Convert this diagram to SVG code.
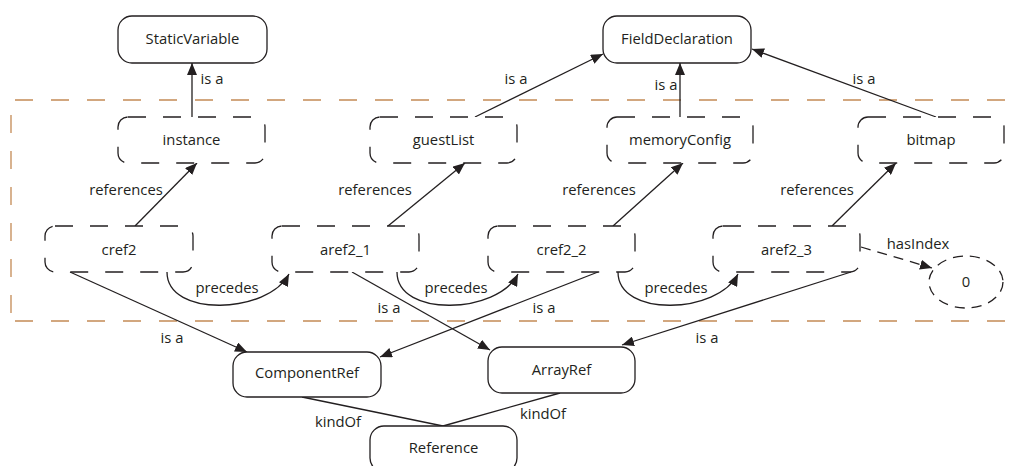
<svg xmlns="http://www.w3.org/2000/svg" width="1014" height="466" viewBox="0 0 1014 466">
<defs>
<style>
text{font-family:"Open Sans","Liberation Sans",sans-serif;font-size:14.8px;fill:#231f20;text-anchor:middle}
.solid{fill:#fff;stroke:#231f20;stroke-width:1.3}
.dash{fill:#fff;stroke:#231f20;stroke-width:1.3;stroke-dasharray:18 17}
.edge{fill:none;stroke:#231f20;stroke-width:1.3}
.arr{marker-end:url(#ah)}
.dedge{fill:none;stroke:#231f20;stroke-width:1.3;stroke-dasharray:10 7}
.region{fill:none;stroke:#c48a55;stroke-width:1.3;stroke-dasharray:18 18}
</style>
<marker id="ah" viewBox="0 0 12 10" refX="12" refY="5" markerWidth="12" markerHeight="10" markerUnits="userSpaceOnUse" orient="auto">
<path d="M0,0 L12,5 L0,10 z" fill="#231f20"/>
</marker>
</defs>
<rect width="1014" height="466" fill="#fff"/>
<g id="region">
<path class="region" d="M15,100 H1014 M11,115 V321 M15,321 H1014"/>
</g>
<g id="connectors">
<path class="edge arr" d="M192,117 L192,63"/>
<path class="edge arr" d="M475,117 L603,54"/>
<path class="edge arr" d="M680,117 L680,63"/>
<path class="edge arr" d="M936,117 L752,49"/>
<path class="edge arr" d="M135,226 L197,163"/>
<path class="edge arr" d="M388,226 L465,163"/>
<path class="edge arr" d="M613,226 L683,163"/>
<path class="edge arr" d="M832,226 L896,163"/>
<path class="edge arr" d="M167,272 C167,318 268,314 289,274"/>
<path class="edge arr" d="M397,272 C397,318 498,314 518,274"/>
<path class="edge arr" d="M618,272 C618,318 718,314 738,274"/>
<path class="dedge arr" d="M861,247 L932,268"/>
<path class="edge arr" d="M70,272 L247,352"/>
<path class="edge arr" d="M598,272 L380,357"/>
<path class="edge arr" d="M352,272 L490,350"/>
<path class="edge arr" d="M851,272 L622,345"/>
<path class="edge" d="M302,397 L443,426"/>
<path class="edge" d="M560,393 L443,426"/>
<text x="212" y="84">is a</text>
<text x="516" y="84">is a</text>
<text x="666" y="90">is a</text>
<text x="864" y="84">is a</text>
<text x="126" y="195">references</text>
<text x="375" y="195">references</text>
<text x="599" y="195">references</text>
<text x="817" y="195">references</text>
<text x="227" y="293">precedes</text>
<text x="456" y="293">precedes</text>
<text x="676" y="293">precedes</text>
<text x="918" y="249">hasIndex</text>
<text x="172" y="343">is a</text>
<text x="389" y="313">is a</text>
<text x="544" y="313">is a</text>
<text x="707" y="343">is a</text>
<text x="338" y="427">kindOf</text>
<text x="543" y="419">kindOf</text>
</g>
<g id="StaticVariable"><rect class="solid" x="118" y="16" width="149" height="47" rx="14"/><text x="192.5" y="44">StaticVariable</text></g>
<g id="FieldDeclaration"><rect class="solid" x="603" y="16" width="148" height="47" rx="14"/><text x="677" y="44">FieldDeclaration</text></g>
<g id="instance"><rect class="dash" x="118" y="117" width="147" height="46" rx="10"/><text x="191.5" y="145">instance</text></g>
<g id="guestList"><rect class="dash" x="370" y="117" width="147" height="46" rx="10"/><text x="443.5" y="145">guestList</text></g>
<g id="memoryConfig"><rect class="dash" x="607" y="117" width="146" height="46" rx="10"/><text x="680" y="145">memoryConfig</text></g>
<g id="bitmap"><rect class="dash" x="858" y="117" width="146" height="46" rx="10"/><text x="931" y="145">bitmap</text></g>
<g id="cref2"><rect class="dash" x="45" y="226" width="148" height="46" rx="10"/><text x="119" y="255">cref2</text></g>
<g id="aref2_1"><rect class="dash" x="272" y="226" width="147" height="46" rx="10"/><text x="345.5" y="255">aref2_1</text></g>
<g id="cref2_2"><rect class="dash" x="488" y="226" width="147" height="46" rx="10"/><text x="561.5" y="255">cref2_2</text></g>
<g id="aref2_3"><rect class="dash" x="713" y="226" width="147" height="46" rx="10"/><text x="786.5" y="255">aref2_3</text></g>
<g id="zero"><ellipse class="dash" cx="966" cy="282" rx="37" ry="26" style="stroke-dasharray:10 7"/><text x="966" y="287">0</text></g>
<g id="ComponentRef"><rect class="solid" x="233" y="352" width="148" height="45" rx="14"/><text x="307" y="378">ComponentRef</text></g>
<g id="ArrayRef"><rect class="solid" x="488" y="347" width="147" height="46" rx="14"/><text x="561.5" y="375">ArrayRef</text></g>
<g id="Reference"><rect class="solid" x="370" y="426" width="147" height="46" rx="14"/><text x="443.5" y="453">Reference</text></g>
</svg>
